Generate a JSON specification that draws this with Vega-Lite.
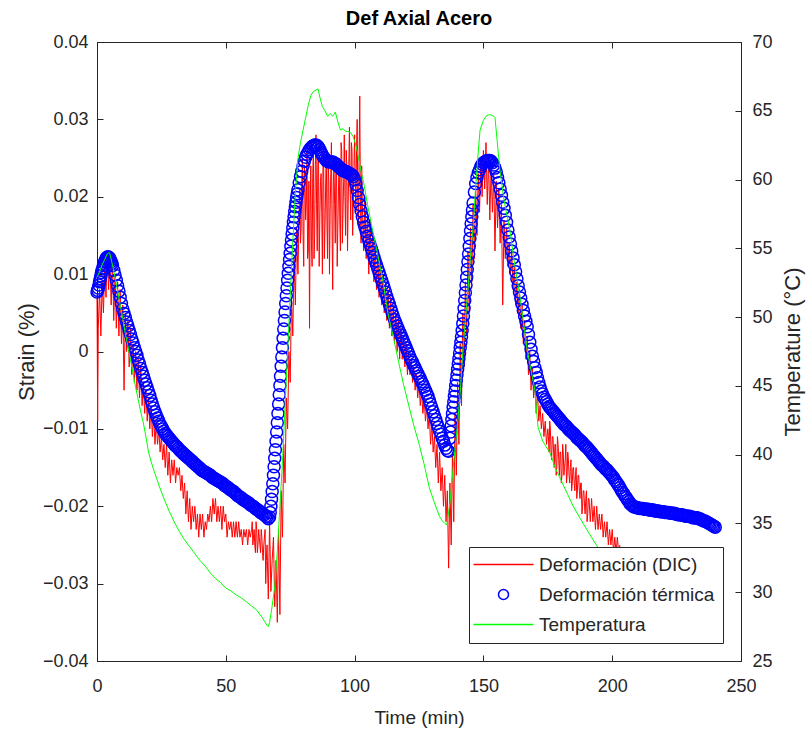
{
"$schema": "https://vega.github.io/schema/vega-lite/v6.json",
"width": 644, "height": 619,
"autosize": {"type": "none"},
"padding": {"left": 97, "top": 42, "right": 65, "bottom": 75},
"background": "white",
"title": {"text": "Def Axial Acero", "fontSize": 20, "fontWeight": "bold", "offset": 4, "color": "#000000", "font": "Liberation Sans"},
"datasets": {
"dic": [
{"t":0,"v":0.007},{"t":0.25,"v":-0.009},{"t":0.5,"v":0.003},{"t":1,"v":0.008},{"t":1.5,"v":0.002},{"t":2,"v":0.009},{"t":2.5,"v":0.005},{"t":3,"v":0.011},{"t":3.5,"v":0.007},{"t":4,"v":0.013},{"t":4.5,"v":0.008},{"t":5,"v":0.012},{"t":5.5,"v":0.006},{"t":6,"v":0.012},{"t":6.5,"v":0.004},{"t":7,"v":0.010},{"t":7.5,"v":0.003},{"t":8,"v":0.009},{"t":8.5,"v":0.002},{"t":9,"v":0.008},{"t":9.5,"v":0.001},{"t":10,"v":0.006},{"t":10.5,"v":-0.005},{"t":11,"v":0.005},{"t":11.5,"v":0.000},{"t":12,"v":0.004},{"t":12.5,"v":-0.002},{"t":13,"v":0.003},{"t":13.5,"v":-0.003},{"t":14,"v":0.001},{"t":14.5,"v":-0.004},{"t":15,"v":0.000},{"t":15.5,"v":-0.005},{"t":16,"v":-0.001},{"t":16.5,"v":-0.006},{"t":17,"v":-0.002},{"t":17.5,"v":-0.007},{"t":18,"v":-0.004},{"t":18.5,"v":-0.008},{"t":19,"v":-0.005},{"t":19.5,"v":-0.009},{"t":20,"v":-0.006},{"t":20.5,"v":-0.010},{"t":21,"v":-0.007},{"t":21.5,"v":-0.011},{"t":22,"v":-0.008},{"t":22.5,"v":-0.012},{"t":23,"v":-0.009},{"t":23.5,"v":-0.012},{"t":24,"v":-0.010},{"t":24.5,"v":-0.013},{"t":25,"v":-0.011},{"t":25.5,"v":-0.014},{"t":26,"v":-0.012},{"t":26.5,"v":-0.015},{"t":27,"v":-0.012},{"t":27.5,"v":-0.016},{"t":28,"v":-0.013},{"t":28.5,"v":-0.017},{"t":29,"v":-0.014},{"t":29.5,"v":-0.016},{"t":30,"v":-0.014},{"t":30.5,"v":-0.017},{"t":31,"v":-0.015},{"t":31.5,"v":-0.016},{"t":32,"v":-0.015},{"t":32.5,"v":-0.018},{"t":33,"v":-0.016},{"t":33.5,"v":-0.019},{"t":34,"v":-0.017},{"t":34.5,"v":-0.021},{"t":35,"v":-0.018},{"t":35.5,"v":-0.022},{"t":36,"v":-0.019},{"t":36.5,"v":-0.023},{"t":37,"v":-0.020},{"t":37.5,"v":-0.022},{"t":38,"v":-0.020},{"t":38.5,"v":-0.023},{"t":39,"v":-0.021},{"t":39.5,"v":-0.024},{"t":40,"v":-0.021},{"t":40.5,"v":-0.023},{"t":41,"v":-0.021},{"t":41.5,"v":-0.024},{"t":42,"v":-0.022},{"t":42.5,"v":-0.023},{"t":43,"v":-0.021},{"t":43.5,"v":-0.022},{"t":44,"v":-0.020},{"t":44.5,"v":-0.022},{"t":45,"v":-0.019},{"t":45.5,"v":-0.021},{"t":46,"v":-0.019},{"t":46.5,"v":-0.022},{"t":47,"v":-0.020},{"t":47.5,"v":-0.022},{"t":48,"v":-0.020},{"t":48.5,"v":-0.023},{"t":49,"v":-0.020},{"t":49.5,"v":-0.022},{"t":50,"v":-0.021},{"t":50.5,"v":-0.024},{"t":51,"v":-0.022},{"t":51.5,"v":-0.023},{"t":52,"v":-0.022},{"t":52.5,"v":-0.024},{"t":53,"v":-0.022},{"t":53.5,"v":-0.024},{"t":54,"v":-0.022},{"t":54.5,"v":-0.024},{"t":55,"v":-0.022},{"t":55.5,"v":-0.024},{"t":56,"v":-0.023},{"t":56.5,"v":-0.025},{"t":57,"v":-0.023},{"t":57.5,"v":-0.024},{"t":58,"v":-0.023},{"t":58.5,"v":-0.025},{"t":59,"v":-0.023},{"t":59.5,"v":-0.024},{"t":60,"v":-0.023},{"t":60.5,"v":-0.025},{"t":61,"v":-0.023},{"t":61.5,"v":-0.026},{"t":62,"v":-0.023},{"t":62.5,"v":-0.025},{"t":63,"v":-0.024},{"t":63.5,"v":-0.026},{"t":64,"v":-0.024},{"t":64.5,"v":-0.027},{"t":65,"v":-0.024},{"t":65.5,"v":-0.030},{"t":66,"v":-0.025},{"t":66.5,"v":-0.032},{"t":67,"v":-0.022},{"t":67.5,"v":-0.031},{"t":68,"v":-0.027},{"t":68.5,"v":-0.024},{"t":69,"v":-0.033},{"t":69.5,"v":-0.027},{"t":70,"v":-0.035},{"t":70.5,"v":-0.023},{"t":71,"v":-0.034},{"t":71.5,"v":-0.018},{"t":72,"v":-0.024},{"t":72.5,"v":-0.012},{"t":73,"v":-0.017},{"t":73.5,"v":-0.006},{"t":74,"v":-0.010},{"t":74.5,"v":0.000},{"t":75,"v":-0.004},{"t":75.5,"v":0.007},{"t":76,"v":0.002},{"t":76.5,"v":0.012},{"t":77,"v":0.006},{"t":77.5,"v":0.016},{"t":78,"v":0.010},{"t":78.5,"v":0.019},{"t":79,"v":0.014},{"t":79.5,"v":0.022},{"t":80,"v":0.015},{"t":80.5,"v":0.024},{"t":81,"v":0.017},{"t":81.5,"v":0.026},{"t":82,"v":0.013},{"t":82.5,"v":0.003},{"t":83,"v":0.024},{"t":83.5,"v":0.011},{"t":84,"v":0.026},{"t":84.5,"v":0.015},{"t":85,"v":0.028},{"t":85.5,"v":0.013},{"t":86,"v":0.025},{"t":86.5,"v":0.017},{"t":87,"v":0.023},{"t":87.5,"v":0.010},{"t":88,"v":0.024},{"t":88.5,"v":0.016},{"t":89,"v":0.026},{"t":89.5,"v":0.012},{"t":90,"v":0.022},{"t":90.5,"v":0.018},{"t":91,"v":0.027},{"t":91.5,"v":0.008},{"t":92,"v":0.024},{"t":92.5,"v":0.014},{"t":93,"v":0.023},{"t":93.5,"v":0.016},{"t":94,"v":0.025},{"t":94.5,"v":0.013},{"t":95,"v":0.026},{"t":95.5,"v":0.018},{"t":96,"v":0.028},{"t":96.5,"v":0.015},{"t":97,"v":0.024},{"t":97.5,"v":0.019},{"t":98,"v":0.029},{"t":98.5,"v":0.017},{"t":99,"v":0.026},{"t":99.5,"v":0.020},{"t":100,"v":0.028},{"t":100.5,"v":0.018},{"t":101,"v":0.030},{"t":101.5,"v":0.016},{"t":102,"v":0.033},{"t":102.5,"v":0.014},{"t":103,"v":0.019},{"t":103.5,"v":0.013},{"t":104,"v":0.020},{"t":104.5,"v":0.012},{"t":105,"v":0.018},{"t":105.5,"v":0.010},{"t":106,"v":0.017},{"t":106.5,"v":0.011},{"t":107,"v":0.015},{"t":107.5,"v":0.009},{"t":108,"v":0.014},{"t":108.5,"v":0.008},{"t":109,"v":0.013},{"t":109.5,"v":0.007},{"t":110,"v":0.012},{"t":110.5,"v":0.006},{"t":111,"v":0.010},{"t":111.5,"v":0.005},{"t":112,"v":0.009},{"t":112.5,"v":0.004},{"t":113,"v":0.008},{"t":113.5,"v":0.003},{"t":114,"v":0.007},{"t":114.5,"v":0.002},{"t":115,"v":0.006},{"t":115.5,"v":0.001},{"t":116,"v":0.005},{"t":116.5,"v":0.000},{"t":117,"v":0.004},{"t":117.5,"v":-0.001},{"t":118,"v":0.003},{"t":118.5,"v":-0.001},{"t":119,"v":0.002},{"t":119.5,"v":-0.002},{"t":120,"v":0.001},{"t":120.5,"v":-0.003},{"t":121,"v":0.000},{"t":121.5,"v":-0.003},{"t":122,"v":-0.001},{"t":122.5,"v":-0.004},{"t":123,"v":-0.002},{"t":123.5,"v":-0.005},{"t":124,"v":-0.003},{"t":124.5,"v":-0.006},{"t":125,"v":-0.004},{"t":125.5,"v":-0.007},{"t":126,"v":-0.005},{"t":126.5,"v":-0.008},{"t":127,"v":-0.006},{"t":127.5,"v":-0.009},{"t":128,"v":-0.007},{"t":128.5,"v":-0.010},{"t":129,"v":-0.008},{"t":129.5,"v":-0.012},{"t":130,"v":-0.009},{"t":130.5,"v":-0.013},{"t":131,"v":-0.011},{"t":131.5,"v":-0.015},{"t":132,"v":-0.012},{"t":132.5,"v":-0.017},{"t":133,"v":-0.013},{"t":133.5,"v":-0.018},{"t":134,"v":-0.015},{"t":134.5,"v":-0.020},{"t":135,"v":-0.016},{"t":135.5,"v":-0.022},{"t":136,"v":-0.018},{"t":136.5,"v":-0.028},{"t":137,"v":-0.017},{"t":137.5,"v":-0.025},{"t":138,"v":-0.013},{"t":138.5,"v":-0.022},{"t":139,"v":-0.008},{"t":139.5,"v":-0.016},{"t":140,"v":-0.004},{"t":140.5,"v":-0.012},{"t":141,"v":0.001},{"t":141.5,"v":-0.007},{"t":142,"v":0.005},{"t":142.5,"v":-0.002},{"t":143,"v":0.009},{"t":143.5,"v":0.002},{"t":144,"v":0.013},{"t":144.5,"v":0.005},{"t":145,"v":0.016},{"t":145.5,"v":0.009},{"t":146,"v":0.019},{"t":146.5,"v":0.012},{"t":147,"v":0.021},{"t":147.5,"v":0.015},{"t":148,"v":0.023},{"t":148.5,"v":0.018},{"t":149,"v":0.025},{"t":149.5,"v":0.020},{"t":150,"v":0.026},{"t":150.5,"v":0.021},{"t":151,"v":0.027},{"t":151.5,"v":0.019},{"t":152,"v":0.025},{"t":152.5,"v":0.017},{"t":153,"v":0.024},{"t":153.5,"v":0.018},{"t":154,"v":0.023},{"t":154.5,"v":0.013},{"t":155,"v":0.022},{"t":155.5,"v":0.016},{"t":156,"v":0.021},{"t":156.5,"v":0.014},{"t":157,"v":0.019},{"t":157.5,"v":0.006},{"t":158,"v":0.017},{"t":158.5,"v":0.012},{"t":159,"v":0.016},{"t":159.5,"v":0.011},{"t":160,"v":0.014},{"t":160.5,"v":0.010},{"t":161,"v":0.013},{"t":161.5,"v":0.008},{"t":162,"v":0.011},{"t":162.5,"v":0.006},{"t":163,"v":0.009},{"t":163.5,"v":0.005},{"t":164,"v":0.008},{"t":164.5,"v":0.003},{"t":165,"v":0.006},{"t":165.5,"v":0.001},{"t":166,"v":0.004},{"t":166.5,"v":-0.001},{"t":167,"v":0.002},{"t":167.5,"v":-0.003},{"t":168,"v":0.000},{"t":168.5,"v":-0.005},{"t":169,"v":-0.002},{"t":169.5,"v":-0.006},{"t":170,"v":-0.004},{"t":170.5,"v":-0.008},{"t":171,"v":-0.005},{"t":171.5,"v":-0.009},{"t":172,"v":-0.007},{"t":172.5,"v":-0.010},{"t":173,"v":-0.008},{"t":173.5,"v":-0.011},{"t":174,"v":-0.009},{"t":174.5,"v":-0.012},{"t":175,"v":-0.010},{"t":175.5,"v":-0.013},{"t":176,"v":-0.010},{"t":176.5,"v":-0.014},{"t":177,"v":-0.011},{"t":177.5,"v":-0.015},{"t":178,"v":-0.012},{"t":178.5,"v":-0.015},{"t":179,"v":-0.012},{"t":179.5,"v":-0.016},{"t":180,"v":-0.013},{"t":180.5,"v":-0.016},{"t":181,"v":-0.013},{"t":181.5,"v":-0.015},{"t":182,"v":-0.012},{"t":182.5,"v":-0.016},{"t":183,"v":-0.014},{"t":183.5,"v":-0.017},{"t":184,"v":-0.014},{"t":184.5,"v":-0.017},{"t":185,"v":-0.015},{"t":185.5,"v":-0.018},{"t":186,"v":-0.015},{"t":186.5,"v":-0.018},{"t":187,"v":-0.016},{"t":187.5,"v":-0.019},{"t":188,"v":-0.017},{"t":188.5,"v":-0.020},{"t":189,"v":-0.018},{"t":189.5,"v":-0.021},{"t":190,"v":-0.018},{"t":190.5,"v":-0.021},{"t":191,"v":-0.019},{"t":191.5,"v":-0.022},{"t":192,"v":-0.019},{"t":192.5,"v":-0.022},{"t":193,"v":-0.020},{"t":193.5,"v":-0.023},{"t":194,"v":-0.020},{"t":194.5,"v":-0.023},{"t":195,"v":-0.021},{"t":195.5,"v":-0.023},{"t":196,"v":-0.021},{"t":196.5,"v":-0.024},{"t":197,"v":-0.022},{"t":197.5,"v":-0.024},{"t":198,"v":-0.022},{"t":198.5,"v":-0.025},{"t":199,"v":-0.023},{"t":199.5,"v":-0.025},{"t":200,"v":-0.023},{"t":200.5,"v":-0.026},{"t":201,"v":-0.024},{"t":201.5,"v":-0.026},{"t":202,"v":-0.024},{"t":202.5,"v":-0.026},{"t":203,"v":-0.025},
{"t":78.25,"v":0.014},{"t":78.75,"v":0.021},{"t":79.25,"v":0.016},{"t":79.75,"v":0.025},{"t":80.25,"v":0.011},{"t":80.75,"v":0.022},{"t":81.25,"v":0.019},{"t":81.75,"v":0.012},{"t":82.25,"v":0.022},{"t":82.75,"v":0.018},{"t":83.25,"v":0.014},{"t":83.75,"v":0.023},{"t":84.25,"v":0.012},{"t":84.75,"v":0.024},{"t":85.25,"v":0.019},{"t":85.75,"v":0.025},{"t":86.25,"v":0.011},{"t":86.75,"v":0.022},{"t":87.25,"v":0.018},{"t":87.75,"v":0.026},{"t":88.25,"v":0.012},{"t":88.75,"v":0.021},{"t":89.25,"v":0.017},{"t":89.75,"v":0.025},{"t":90.25,"v":0.010},{"t":90.75,"v":0.023},{"t":91.25,"v":0.016},{"t":91.75,"v":0.022},{"t":92.25,"v":0.019},{"t":92.75,"v":0.025},{"t":93.25,"v":0.011},{"t":93.75,"v":0.021},{"t":94.25,"v":0.017},{"t":94.75,"v":0.027},{"t":95.25,"v":0.014},{"t":95.75,"v":0.022},{"t":96.25,"v":0.020},{"t":96.75,"v":0.026},{"t":97.25,"v":0.013},{"t":97.75,"v":0.024},{"t":98.25,"v":0.021},{"t":98.75,"v":0.027},{"t":99.25,"v":0.015},{"t":99.75,"v":0.024},{"t":100.25,"v":0.022},{"t":100.75,"v":0.026},{"t":101.25,"v":0.019},{"t":101.75,"v":0.025},{"t":102.25,"v":0.020},{"t":102.75,"v":0.024},
{"t":60.25,"v":-0.022},{"t":60.75,"v":-0.024},{"t":61.25,"v":-0.025},{"t":61.75,"v":-0.022},{"t":62.25,"v":-0.026},{"t":62.75,"v":-0.023},{"t":63.25,"v":-0.025},{"t":63.75,"v":-0.023},{"t":64.25,"v":-0.026},{"t":64.75,"v":-0.025},{"t":65.25,"v":-0.023},{"t":65.75,"v":-0.027},
{"t":175.25,"v":-0.011},{"t":175.75,"v":-0.009},{"t":176.25,"v":-0.013},{"t":176.75,"v":-0.011},{"t":177.25,"v":-0.013},{"t":177.75,"v":-0.012},{"t":178.25,"v":-0.016},{"t":178.75,"v":-0.011},{"t":179.25,"v":-0.014},{"t":179.75,"v":-0.013},{"t":180.25,"v":-0.017},{"t":180.75,"v":-0.012},{"t":181.25,"v":-0.016},{"t":181.75,"v":-0.014},{"t":182.25,"v":-0.017},{"t":182.75,"v":-0.013},{"t":183.25,"v":-0.016},{"t":183.75,"v":-0.015},{"t":184.25,"v":-0.018},{"t":184.75,"v":-0.015},{"t":185.25,"v":-0.017},{"t":185.75,"v":-0.016},{"t":186.25,"v":-0.019},{"t":186.75,"v":-0.016},{"t":187.25,"v":-0.018},{"t":187.75,"v":-0.017},{"t":188.25,"v":-0.021},{"t":188.75,"v":-0.018},{"t":189.25,"v":-0.020},{"t":189.75,"v":-0.019},{"t":190.25,"v":-0.022},{"t":190.75,"v":-0.019}
],
"ter": [
{"t":0,"v":0.0077},{"t":0.5,"v":0.0082},{"t":1,"v":0.0090},{"t":1.5,"v":0.0098},{"t":2,"v":0.0105},{"t":2.5,"v":0.0111},{"t":3,"v":0.0116},{"t":3.5,"v":0.0120},{"t":4,"v":0.0122},{"t":4.5,"v":0.0122},{"t":5,"v":0.0120},{"t":5.5,"v":0.0116},{"t":6,"v":0.0111},{"t":7,"v":0.0099},{"t":8,"v":0.0085},{"t":9,"v":0.0070},{"t":10,"v":0.0055},{"t":11,"v":0.0044},{"t":12,"v":0.0033},{"t":13,"v":0.0022},{"t":14,"v":0.0011},{"t":15,"v":0.0000},{"t":16,"v":-0.0011},{"t":17,"v":-0.0022},{"t":18,"v":-0.0032},{"t":19,"v":-0.0042},{"t":20,"v":-0.0052},{"t":21,"v":-0.0063},{"t":22,"v":-0.0073},{"t":23,"v":-0.0082},{"t":24,"v":-0.0090},{"t":25,"v":-0.0097},{"t":26,"v":-0.0103},{"t":27,"v":-0.0108},{"t":28,"v":-0.0112},{"t":29,"v":-0.0116},{"t":30,"v":-0.0120},{"t":31,"v":-0.0123},{"t":32,"v":-0.0127},{"t":33,"v":-0.0130},{"t":34,"v":-0.0133},{"t":35,"v":-0.0136},{"t":36,"v":-0.0139},{"t":37,"v":-0.0142},{"t":38,"v":-0.0145},{"t":39,"v":-0.0148},{"t":40,"v":-0.0151},{"t":41,"v":-0.0154},{"t":42,"v":-0.0156},{"t":43,"v":-0.0158},{"t":44,"v":-0.0160},{"t":45,"v":-0.0163},{"t":46,"v":-0.0165},{"t":47,"v":-0.0167},{"t":48,"v":-0.0169},{"t":49,"v":-0.0171},{"t":50,"v":-0.0174},{"t":51,"v":-0.0176},{"t":52,"v":-0.0179},{"t":53,"v":-0.0181},{"t":54,"v":-0.0184},{"t":55,"v":-0.0187},{"t":56,"v":-0.0189},{"t":57,"v":-0.0192},{"t":58,"v":-0.0194},{"t":59,"v":-0.0196},{"t":60,"v":-0.0199},{"t":61,"v":-0.0201},{"t":62,"v":-0.0204},{"t":63,"v":-0.0206},{"t":64,"v":-0.0209},{"t":65,"v":-0.0211},{"t":66,"v":-0.0214},{"t":66.5,"v":-0.0216},{"t":67,"v":-0.0214},{"t":67.25,"v":-0.0208},{"t":67.5,"v":-0.0200},{"t":67.75,"v":-0.0191},{"t":68,"v":-0.0181},{"t":68.25,"v":-0.0171},{"t":68.5,"v":-0.0160},{"t":68.75,"v":-0.0149},{"t":69,"v":-0.0138},{"t":69.25,"v":-0.0127},{"t":69.5,"v":-0.0116},{"t":69.75,"v":-0.0104},{"t":70,"v":-0.0092},{"t":70.25,"v":-0.0080},{"t":70.5,"v":-0.0068},{"t":70.75,"v":-0.0056},{"t":71,"v":-0.0044},{"t":71.25,"v":-0.0032},{"t":71.5,"v":-0.0019},{"t":71.75,"v":-0.0007},{"t":72,"v":0.0005},{"t":72.25,"v":0.0017},{"t":72.5,"v":0.0029},{"t":72.75,"v":0.0040},{"t":73,"v":0.0051},{"t":73.25,"v":0.0062},{"t":73.5,"v":0.0072},{"t":73.75,"v":0.0082},{"t":74,"v":0.0092},{"t":74.25,"v":0.0101},{"t":74.5,"v":0.0110},{"t":74.75,"v":0.0119},{"t":75,"v":0.0127},{"t":75.25,"v":0.0136},{"t":75.5,"v":0.0144},{"t":75.75,"v":0.0152},{"t":76,"v":0.0160},{"t":76.25,"v":0.0167},{"t":76.5,"v":0.0174},{"t":76.75,"v":0.0181},{"t":77,"v":0.0187},{"t":77.25,"v":0.0193},{"t":77.5,"v":0.0199},{"t":77.75,"v":0.0204},{"t":78,"v":0.0209},{"t":78.5,"v":0.0218},{"t":79,"v":0.0226},{"t":79.5,"v":0.0233},{"t":80,"v":0.0240},{"t":80.5,"v":0.0246},{"t":81,"v":0.0251},{"t":82,"v":0.0258},{"t":83,"v":0.0263},{"t":84,"v":0.0266},{"t":85,"v":0.0267},{"t":86,"v":0.0264},{"t":87,"v":0.0257},{"t":88,"v":0.0251},{"t":89,"v":0.0247},{"t":90,"v":0.0245},{"t":91,"v":0.0245},{"t":92,"v":0.0244},{"t":93,"v":0.0241},{"t":94,"v":0.0238},{"t":95,"v":0.0235},{"t":96,"v":0.0233},{"t":97,"v":0.0232},{"t":98,"v":0.0230},{"t":99,"v":0.0228},{"t":100,"v":0.0222},{"t":101,"v":0.0208},{"t":102,"v":0.0190},{"t":103,"v":0.0174},{"t":104,"v":0.0161},{"t":105,"v":0.0149},{"t":106,"v":0.0138},{"t":107,"v":0.0128},{"t":108,"v":0.0117},{"t":109,"v":0.0107},{"t":110,"v":0.0097},{"t":111,"v":0.0087},{"t":112,"v":0.0077},{"t":113,"v":0.0066},{"t":114,"v":0.0056},{"t":115,"v":0.0046},{"t":116,"v":0.0037},{"t":117,"v":0.0029},{"t":118,"v":0.0021},{"t":119,"v":0.0013},{"t":120,"v":0.0005},{"t":121,"v":-0.0003},{"t":122,"v":-0.0011},{"t":123,"v":-0.0018},{"t":124,"v":-0.0025},{"t":125,"v":-0.0032},{"t":126,"v":-0.0039},{"t":127,"v":-0.0046},{"t":128,"v":-0.0054},{"t":129,"v":-0.0063},{"t":130,"v":-0.0073},{"t":131,"v":-0.0083},{"t":132,"v":-0.0093},{"t":133,"v":-0.0103},{"t":134,"v":-0.0112},{"t":135,"v":-0.0121},{"t":136,"v":-0.0128},{"t":136.5,"v":-0.0129},{"t":137,"v":-0.0112},{"t":137.25,"v":-0.0104},{"t":137.5,"v":-0.0096},{"t":137.75,"v":-0.0088},{"t":138,"v":-0.0080},{"t":138.25,"v":-0.0072},{"t":138.5,"v":-0.0065},{"t":138.75,"v":-0.0058},{"t":139,"v":-0.0051},{"t":139.25,"v":-0.0044},{"t":139.5,"v":-0.0037},{"t":139.75,"v":-0.0030},{"t":140,"v":-0.0023},{"t":140.25,"v":-0.0016},{"t":140.5,"v":-0.0009},{"t":140.75,"v":-0.0002},{"t":141,"v":0.0005},{"t":141.25,"v":0.0012},{"t":141.5,"v":0.0019},{"t":141.75,"v":0.0027},{"t":142,"v":0.0036},{"t":142.25,"v":0.0046},{"t":142.5,"v":0.0056},{"t":142.75,"v":0.0066},{"t":143,"v":0.0076},{"t":143.25,"v":0.0086},{"t":143.5,"v":0.0096},{"t":143.75,"v":0.0106},{"t":144,"v":0.0116},{"t":144.25,"v":0.0126},{"t":144.5,"v":0.0136},{"t":144.75,"v":0.0146},{"t":145,"v":0.0156},{"t":145.25,"v":0.0165},{"t":145.5,"v":0.0174},{"t":145.75,"v":0.0183},{"t":146,"v":0.0192},{"t":146.5,"v":0.0206},{"t":147,"v":0.0217},{"t":147.5,"v":0.0225},{"t":148,"v":0.0231},{"t":148.5,"v":0.0235},{"t":149,"v":0.0239},{"t":149.5,"v":0.0242},{"t":150,"v":0.0244},{"t":151,"v":0.0246},{"t":152,"v":0.0247},{"t":153,"v":0.0246},{"t":154,"v":0.0241},{"t":155,"v":0.0232},{"t":156,"v":0.0218},{"t":157,"v":0.0202},{"t":158,"v":0.0185},{"t":159,"v":0.0167},{"t":160,"v":0.0148},{"t":161,"v":0.0130},{"t":162,"v":0.0112},{"t":163,"v":0.0094},{"t":164,"v":0.0077},{"t":165,"v":0.0061},{"t":166,"v":0.0046},{"t":167,"v":0.0032},{"t":168,"v":0.0012},{"t":169,"v":-0.0006},{"t":170,"v":-0.0021},{"t":171,"v":-0.0034},{"t":172,"v":-0.0046},{"t":173,"v":-0.0055},{"t":174,"v":-0.0062},{"t":175,"v":-0.0068},{"t":176,"v":-0.0073},{"t":177,"v":-0.0077},{"t":178,"v":-0.0081},{"t":179,"v":-0.0085},{"t":180,"v":-0.0089},{"t":181,"v":-0.0093},{"t":182,"v":-0.0096},{"t":183,"v":-0.0100},{"t":184,"v":-0.0103},{"t":185,"v":-0.0106},{"t":186,"v":-0.0110},{"t":187,"v":-0.0113},{"t":188,"v":-0.0116},{"t":189,"v":-0.0120},{"t":190,"v":-0.0123},{"t":191,"v":-0.0127},{"t":192,"v":-0.0131},{"t":193,"v":-0.0135},{"t":194,"v":-0.0139},{"t":195,"v":-0.0143},{"t":196,"v":-0.0147},{"t":197,"v":-0.0150},{"t":198,"v":-0.0153},{"t":199,"v":-0.0157},{"t":200,"v":-0.0161},{"t":201,"v":-0.0166},{"t":202,"v":-0.0171},{"t":203,"v":-0.0176},{"t":204,"v":-0.0182},{"t":205,"v":-0.0187},{"t":206,"v":-0.0192},{"t":207,"v":-0.0197},{"t":208,"v":-0.0200},{"t":209,"v":-0.0201},{"t":210,"v":-0.0202},{"t":211,"v":-0.0203},{"t":212,"v":-0.0203},{"t":213,"v":-0.0204},{"t":214,"v":-0.0204},{"t":215,"v":-0.0205},{"t":216,"v":-0.0205},{"t":217,"v":-0.0206},{"t":218,"v":-0.0206},{"t":219,"v":-0.0207},{"t":220,"v":-0.0207},{"t":221,"v":-0.0208},{"t":222,"v":-0.0208},{"t":223,"v":-0.0209},{"t":224,"v":-0.0209},{"t":225,"v":-0.0210},{"t":226,"v":-0.0211},{"t":227,"v":-0.0211},{"t":228,"v":-0.0212},{"t":229,"v":-0.0213},{"t":230,"v":-0.0213},{"t":231,"v":-0.0214},{"t":232,"v":-0.0215},{"t":233,"v":-0.0215},{"t":234,"v":-0.0216},{"t":235,"v":-0.0218},{"t":236,"v":-0.0219},{"t":237,"v":-0.0221},{"t":238,"v":-0.0223},{"t":239,"v":-0.0225},{"t":240,"v":-0.0227},
{"t":6.5,"v":0.0105},{"t":7.5,"v":0.0092},{"t":8.5,"v":0.0078},{"t":9.5,"v":0.0062},{"t":10.5,"v":0.0049},{"t":11.5,"v":0.0038},{"t":12.5,"v":0.0027},{"t":13.5,"v":0.0016},{"t":14.5,"v":0.0005},{"t":15.5,"v":-0.0005},{"t":16.5,"v":-0.0016},{"t":17.5,"v":-0.0027},{"t":18.5,"v":-0.0037},{"t":19.5,"v":-0.0047},{"t":20.5,"v":-0.0057},{"t":21.5,"v":-0.0068},{"t":22.5,"v":-0.0078},{"t":23.5,"v":-0.0086},{"t":24.5,"v":-0.0094},{"t":25.5,"v":-0.0100},{"t":26.5,"v":-0.0106},
{"t":86.5,"v":0.0261},{"t":87.5,"v":0.0254},
{"t":100.5,"v":0.0216},{"t":101.5,"v":0.0199},{"t":102.5,"v":0.0182},{"t":103.5,"v":0.0167},{"t":104.5,"v":0.0155},{"t":105.5,"v":0.0143},{"t":106.5,"v":0.0133},{"t":107.5,"v":0.0122},{"t":108.5,"v":0.0112},{"t":109.5,"v":0.0102},{"t":110.5,"v":0.0092},{"t":111.5,"v":0.0082},{"t":112.5,"v":0.0071},{"t":113.5,"v":0.0061},{"t":114.5,"v":0.0051},{"t":115.5,"v":0.0041},{"t":116.5,"v":0.0033},{"t":117.5,"v":0.0025},{"t":118.5,"v":0.0017},{"t":119.5,"v":0.0009},{"t":120.5,"v":0.0001},{"t":121.5,"v":-0.0007},{"t":122.5,"v":-0.0014},{"t":123.5,"v":-0.0021},{"t":124.5,"v":-0.0028},{"t":125.5,"v":-0.0035},{"t":126.5,"v":-0.0042},{"t":127.5,"v":-0.0050},{"t":128.5,"v":-0.0058},{"t":129.5,"v":-0.0068},{"t":130.5,"v":-0.0078},{"t":131.5,"v":-0.0088},{"t":132.5,"v":-0.0098},{"t":133.5,"v":-0.0107},{"t":134.5,"v":-0.0116},{"t":135.5,"v":-0.0125},
{"t":154.5,"v":0.0237},{"t":155.5,"v":0.0225},{"t":156.5,"v":0.0210},{"t":157.5,"v":0.0193},{"t":158.5,"v":0.0176},{"t":159.5,"v":0.0157},{"t":160.5,"v":0.0139},{"t":161.5,"v":0.0121},{"t":162.5,"v":0.0103},{"t":163.5,"v":0.0085},{"t":164.5,"v":0.0069},{"t":165.5,"v":0.0053},{"t":166.5,"v":0.0039},{"t":167.5,"v":0.0022},{"t":168.5,"v":0.0003},{"t":169.5,"v":-0.0013},{"t":170.5,"v":-0.0027},{"t":171.5,"v":-0.0040},{"t":172.5,"v":-0.0051},
{"t":190.5,"v":-0.0125},{"t":191.5,"v":-0.0129},{"t":192.5,"v":-0.0133},{"t":193.5,"v":-0.0137},{"t":194.5,"v":-0.0141},{"t":195.5,"v":-0.0145},{"t":196.5,"v":-0.0148},{"t":197.5,"v":-0.0152},{"t":198.5,"v":-0.0155},{"t":199.5,"v":-0.0159},{"t":200.5,"v":-0.0163},{"t":201.5,"v":-0.0168},{"t":202.5,"v":-0.0173},{"t":203.5,"v":-0.0179},{"t":204.5,"v":-0.0184},{"t":205.5,"v":-0.0189},{"t":206.5,"v":-0.0194},{"t":207.5,"v":-0.0198},
{"t":27.5,"v":-0.0110},{"t":28.5,"v":-0.0114},{"t":29.5,"v":-0.0118},{"t":30.5,"v":-0.0122},{"t":31.5,"v":-0.0125},{"t":32.5,"v":-0.0129},{"t":33.5,"v":-0.0132},{"t":34.5,"v":-0.0135},{"t":35.5,"v":-0.0138},{"t":36.5,"v":-0.0141},{"t":37.5,"v":-0.0144},{"t":38.5,"v":-0.0147},{"t":39.5,"v":-0.0150},{"t":40.5,"v":-0.0153},{"t":41.5,"v":-0.0155},{"t":42.5,"v":-0.0157},{"t":43.5,"v":-0.0159},{"t":44.5,"v":-0.0162},{"t":45.5,"v":-0.0164},{"t":46.5,"v":-0.0166},{"t":47.5,"v":-0.0168},{"t":48.5,"v":-0.0170},{"t":49.5,"v":-0.0173},{"t":50.5,"v":-0.0175},{"t":51.5,"v":-0.0178},{"t":52.5,"v":-0.0180},{"t":53.5,"v":-0.0183},{"t":54.5,"v":-0.0186},{"t":55.5,"v":-0.0188},{"t":56.5,"v":-0.0191},{"t":57.5,"v":-0.0193},{"t":58.5,"v":-0.0195},{"t":59.5,"v":-0.0198},{"t":60.5,"v":-0.0200},{"t":61.5,"v":-0.0203},{"t":62.5,"v":-0.0205},{"t":63.5,"v":-0.0208},{"t":64.5,"v":-0.0210},{"t":65.5,"v":-0.0213},
{"t":81.5,"v":0.0255},{"t":82.5,"v":0.0261},{"t":83.5,"v":0.0265},{"t":84.5,"v":0.0267},{"t":85.5,"v":0.0266},{"t":88.5,"v":0.0249},{"t":89.5,"v":0.0246},{"t":90.5,"v":0.0245},{"t":91.5,"v":0.0245},{"t":92.5,"v":0.0243},{"t":93.5,"v":0.0240},{"t":94.5,"v":0.0237},{"t":95.5,"v":0.0234},{"t":96.5,"v":0.0233},{"t":97.5,"v":0.0231},{"t":98.5,"v":0.0229},{"t":99.5,"v":0.0226},
{"t":150.5,"v":0.0245},{"t":151.5,"v":0.0247},{"t":152.5,"v":0.0247},{"t":153.5,"v":0.0244},
{"t":173.5,"v":-0.0059},{"t":174.5,"v":-0.0065},{"t":175.5,"v":-0.0071},{"t":176.5,"v":-0.0075},{"t":177.5,"v":-0.0079},{"t":178.5,"v":-0.0083},{"t":179.5,"v":-0.0087},{"t":180.5,"v":-0.0091},{"t":181.5,"v":-0.0095},{"t":182.5,"v":-0.0098},{"t":183.5,"v":-0.0102},{"t":184.5,"v":-0.0105},{"t":185.5,"v":-0.0108},{"t":186.5,"v":-0.0112},{"t":187.5,"v":-0.0115},{"t":188.5,"v":-0.0118},{"t":189.5,"v":-0.0122},
{"t":208.5,"v":-0.0201},{"t":209.5,"v":-0.0202},{"t":210.5,"v":-0.0203},{"t":211.5,"v":-0.0203},{"t":212.5,"v":-0.0204},{"t":213.5,"v":-0.0204},{"t":214.5,"v":-0.0205},{"t":215.5,"v":-0.0205},{"t":216.5,"v":-0.0206},{"t":217.5,"v":-0.0206},{"t":218.5,"v":-0.0207},{"t":219.5,"v":-0.0207},{"t":220.5,"v":-0.0208},{"t":221.5,"v":-0.0208},{"t":222.5,"v":-0.0209},{"t":223.5,"v":-0.0209},{"t":224.5,"v":-0.0210},{"t":225.5,"v":-0.0211},{"t":226.5,"v":-0.0211},{"t":227.5,"v":-0.0212},{"t":228.5,"v":-0.0213},{"t":229.5,"v":-0.0213},{"t":230.5,"v":-0.0214},{"t":231.5,"v":-0.0215},{"t":232.5,"v":-0.0215},{"t":233.5,"v":-0.0216},{"t":234.5,"v":-0.0217},{"t":235.5,"v":-0.0219},{"t":236.5,"v":-0.0220},{"t":237.5,"v":-0.0222},{"t":238.5,"v":-0.0224},{"t":239.5,"v":-0.0226},
{"t":0.25,"v":0.0079},{"t":0.75,"v":0.0086},{"t":1.25,"v":0.0094},{"t":1.75,"v":0.0102},{"t":2.25,"v":0.0108},{"t":2.75,"v":0.0114},{"t":3.25,"v":0.0118},{"t":3.75,"v":0.0121},{"t":4.25,"v":0.0122},{"t":4.75,"v":0.0121},{"t":5.25,"v":0.0118},{"t":5.75,"v":0.0114}
],
"temp": [
{"t":0,"v":52.9},{"t":1,"v":53.3},{"t":2,"v":53.8},{"t":3,"v":54.2},{"t":4,"v":54.6},{"t":4.7,"v":54.7},{"t":5,"v":54.6},{"t":6,"v":53.8},{"t":7,"v":52.9},{"t":8,"v":51.9},{"t":9,"v":50.9},{"t":10,"v":49.9},{"t":11,"v":48.8},{"t":12,"v":47.9},{"t":13,"v":46.9},{"t":14,"v":45.9},{"t":15,"v":44.9},{"t":16,"v":44.0},{"t":17,"v":43.1},{"t":18,"v":42.3},{"t":19,"v":41.3},{"t":20,"v":40.2},{"t":21,"v":39.5},{"t":22,"v":38.9},{"t":24,"v":37.8},{"t":26,"v":36.8},{"t":28,"v":35.9},{"t":30,"v":35.1},{"t":32,"v":34.4},{"t":34,"v":33.8},{"t":36,"v":33.3},{"t":38,"v":32.8},{"t":40,"v":32.3},{"t":42,"v":31.9},{"t":44,"v":31.4},{"t":46,"v":31.0},{"t":48,"v":30.7},{"t":50,"v":30.3},{"t":52,"v":30.1},{"t":54,"v":29.8},{"t":56,"v":29.6},{"t":58,"v":29.3},{"t":60,"v":29.0},{"t":62,"v":28.7},{"t":64,"v":28.2},{"t":65,"v":27.9},{"t":66,"v":27.6},{"t":66.5,"v":27.5},{"t":67,"v":27.8},{"t":68,"v":29.0},{"t":69,"v":30.4},{"t":70,"v":33.0},{"t":71,"v":36.2},{"t":72,"v":39.5},{"t":73,"v":43.5},{"t":74,"v":47.5},{"t":75,"v":51.5},{"t":76,"v":55.5},{"t":77,"v":59.0},{"t":78,"v":61.5},{"t":79,"v":62.7},{"t":80,"v":63.6},{"t":81,"v":64.5},{"t":82,"v":65.4},{"t":83,"v":66.1},{"t":84,"v":66.4},{"t":85,"v":66.5},{"t":85.8,"v":66.6},{"t":86.5,"v":66.0},{"t":87.5,"v":65.3},{"t":88.5,"v":65.0},{"t":89.5,"v":64.6},{"t":90.5,"v":64.8},{"t":91.5,"v":64.6},{"t":92.5,"v":64.9},{"t":93.5,"v":64.2},{"t":94.5,"v":63.6},{"t":95.5,"v":63.7},{"t":96.5,"v":63.5},{"t":97.5,"v":63.5},{"t":98.5,"v":63.4},{"t":99.5,"v":63.1},{"t":100.5,"v":62.5},{"t":101.5,"v":61.6},{"t":102.5,"v":60.6},{"t":103.5,"v":59.8},{"t":105,"v":58.2},{"t":107,"v":56.3},{"t":109,"v":54.5},{"t":111,"v":52.6},{"t":113,"v":50.2},{"t":115,"v":48.6},{"t":117,"v":46.8},{"t":119,"v":45.1},{"t":121,"v":43.6},{"t":123,"v":42.1},{"t":125,"v":40.8},{"t":127,"v":39.3},{"t":129,"v":37.6},{"t":131,"v":36.5},{"t":133,"v":35.5},{"t":134,"v":35.2},{"t":135,"v":35.0},{"t":135.8,"v":34.9},{"t":137,"v":36.5},{"t":138,"v":38.5},{"t":139,"v":40.5},{"t":140,"v":42.3},{"t":141,"v":44.5},{"t":142,"v":47.5},{"t":143,"v":49.8},{"t":144,"v":52.0},{"t":145,"v":54.5},{"t":146,"v":56.5},{"t":147,"v":59.5},{"t":148,"v":62.0},{"t":148.7,"v":63.6},{"t":150,"v":64.3},{"t":151,"v":64.6},{"t":152,"v":64.7},{"t":153,"v":64.7},{"t":154,"v":64.6},{"t":154.5,"v":64.5},{"t":155.3,"v":62.9},{"t":156.4,"v":60.7},{"t":158,"v":58.5},{"t":160.3,"v":56.3},{"t":162,"v":54.0},{"t":164.2,"v":51.5},{"t":166,"v":49.0},{"t":167,"v":47.6},{"t":168,"v":46.6},{"t":170,"v":44.7},{"t":171.2,"v":42.0},{"t":173,"v":41.0},{"t":175.9,"v":40.1},{"t":178,"v":39.0},{"t":180,"v":38.2},{"t":182.5,"v":37.2},{"t":185,"v":36.2},{"t":188.7,"v":35.0},{"t":190,"v":34.6},{"t":192.6,"v":33.8},{"t":195,"v":33.1},{"t":198,"v":32.3},{"t":200,"v":31.8},{"t":203,"v":31.2}
]
},
"layer": [
{
"data": {"name": "dic"},
"mark": {"type": "line", "strokeWidth": 1, "interpolate": "linear"},
"encoding": {
"x": {"field": "t", "type": "quantitative", "scale": {"domain": [0, 250], "nice": false},
"axis": {"orient": "bottom", "values": [0, 50, 100, 150, 200, 250], "labelFlush": false, "title": "Time (min)", "titleFontSize": 19, "labelPadding": 22, "titlePadding": 13}},
"y": {"field": "v", "type": "quantitative", "scale": {"domain": [-0.04, 0.04], "nice": false, "zero": false},
"axis": {"orient": "left", "values": [-0.04, -0.03, -0.02, -0.01, 0, 0.01, 0.02, 0.03, 0.04], "labelFlush": false, "labelExpr": "datum.value == 0 ? '0' : format(datum.value, '.2f')", "title": "Strain (%)", "titleFontSize": 22, "labelPadding": 15, "titlePadding": 4}},
"color": {"datum": "Deformación (DIC)", "type": "nominal",
"scale": {"domain": ["Deformación (DIC)", "Deformación térmica", "Temperatura"], "range": ["#ff0000", "#0000ff", "#00ff00"]},
"legend": {"title": null}}
}
},
{
"data": {"name": "ter"},
"mark": {"type": "point", "filled": false, "size": 144, "strokeWidth": 1.5, "opacity": 1},
"encoding": {
"x": {"field": "t", "type": "quantitative", "scale": {"domain": [0, 250], "nice": false},
"axis": {"orient": "top", "values": [0, 50, 100, 150, 200, 250], "labels": false, "title": null}},
"y": {"field": "v", "type": "quantitative", "scale": {"domain": [-0.04, 0.04], "nice": false, "zero": false}, "axis": null},
"color": {"datum": "Deformación térmica", "type": "nominal"},
"shape": {"datum": "Deformación térmica", "type": "nominal",
"scale": {"domain": ["Deformación (DIC)", "Deformación térmica", "Temperatura"], "range": ["M-6,0H6", "M-1,0A1,1,0,1,0,1,0A1,1,0,1,0,-1,0", "M-6,0H6"]},
"legend": {"title": null}}
}
},
{
"data": {"name": "temp"},
"mark": {"type": "line", "strokeWidth": 1, "interpolate": "linear"},
"encoding": {
"x": {"field": "t", "type": "quantitative", "scale": {"domain": [0, 250], "nice": false}, "axis": null},
"y": {"field": "v", "type": "quantitative", "scale": {"domain": [25, 70], "nice": false, "zero": false},
"axis": {"orient": "right", "values": [25, 30, 35, 40, 45, 50, 55, 60, 65, 70], "labelFlush": false, "title": "Temperature (°C)", "titleFontSize": 22, "titleAngle": 270, "titleBaseline": "top", "labelPadding": 17, "titlePadding": 10}},
"color": {"datum": "Temperatura", "type": "nominal"}
}
}
],
"resolve": {"scale": {"y": "independent"}, "axis": {"x": "independent"}},
"config": {
"font": "Liberation Sans",
"view": {"stroke": "#262626", "strokeWidth": 1},
"axis": {"grid": false, "domain": true, "domainColor": "#262626", "tickColor": "#262626", "tickSize": -6, "tickWidth": 1, "labelFontSize": 18, "labelColor": "#262626", "titleColor": "#262626", "titleFontWeight": "normal", "labelFont": "Liberation Sans", "titleFont": "Liberation Sans"},
"legend": {"orient": "bottom-right", "offset": 18, "labelFontSize": 19, "labelFont": "Liberation Sans", "labelColor": "#262626", "strokeColor": "#262626", "fillColor": "white", "padding": 8, "symbolSize": 100, "symbolStrokeWidth": 1.5, "symbolOffset": 17, "labelOffset": 26, "rowPadding": 10, "labelLimit": 400}
}
}
